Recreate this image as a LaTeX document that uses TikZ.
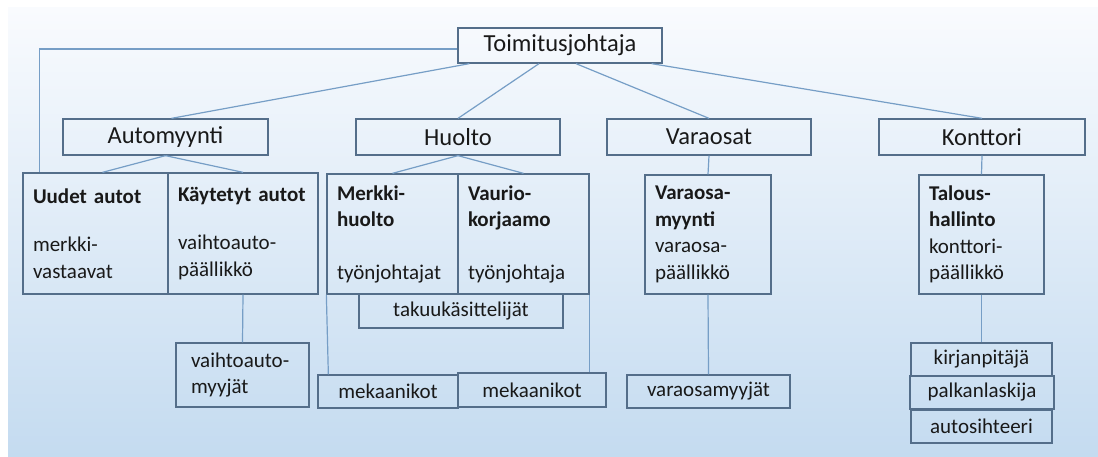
\documentclass[tikz,border=0pt]{standalone}
\usepackage{fontspec}
\setmainfont{Carlito}
\usepackage{tikz}
\usepackage{color}

\definecolor{boxline}{RGB}{84,110,138}
\definecolor{linkline}{RGB}{118,158,198}
\definecolor{paneltop}{RGB}{249,251,254}
\definecolor{panelbottom}{RGB}{196,219,240}
\definecolor{ink}{RGB}{25,25,25}

\tikzset{
  unit/.style={draw=boxline, line width=1.3pt, rectangle, text=ink, inner sep=0pt},
  bigunit/.style={unit, font=\fontsize{24.5}{29}\selectfont},
  smallunit/.style={unit, font=\fontsize{21}{26.5}\selectfont},
  textunit/.style={smallunit, align=left, inner xsep=10pt},
  link/.style={draw=linkline, line width=1.2pt}
}

\begin{document}
\begin{tikzpicture}[x=1pt,y=-1pt]
\useasboundingbox (0,0) rectangle (1098,457);
\shade[top color=paneltop, bottom color=panelbottom] (8,8) rectangle (1098,457);

\node[bigunit, minimum width=204pt, minimum height=35pt] (toim) at (560,45.5) {Toimitusjohtaja};

\node[bigunit, minimum width=205pt, minimum height=36pt] (auto) at (165.5,137) {Automyynti};
\node[bigunit, minimum width=204pt, minimum height=36pt] (huolto) at (458,137) {Huolto};
\node[bigunit, minimum width=204pt, minimum height=36pt] (varaosat) at (709,137) {Varaosat};
\node[bigunit, minimum width=206pt, minimum height=36pt] (konttori) at (982,137) {Konttori};

\node[textunit, text width=125pt, minimum height=121pt] (uudet) at (95.5,233.5) {\textbf{Uudet~autot}\\[22pt]merkki-\\vastaavat};
\node[textunit, text width=130pt, minimum height=121pt] (kaytetyt) at (243,233.5) {\textbf{Käytetyt~autot}\\[22pt]vaihtoauto-\\päällikkö};
\node[textunit, text width=111pt, minimum height=120pt] (merkki) at (392.5,234) {\textbf{Merkki-}\\\textbf{huolto}\\[26pt]työnjohtajat};
\node[textunit, text width=111pt, minimum height=120pt] (vaurio) at (523.5,234) {\textbf{Vaurio-}\\\textbf{korjaamo}\\[26pt]työnjohtaja};
\node[textunit, text width=106pt, minimum height=119pt] (varmyynti) at (708,234.5) {\textbf{Varaosa-}\\\textbf{myynti}\\varaosa-\\päällikkö};
\node[textunit, text width=105pt, minimum height=119pt] (talous) at (981.5,234.5) {\textbf{Talous-}\\\textbf{hallinto}\\konttori-\\päällikkö};

\node[smallunit, minimum width=204pt, minimum height=34pt] (takuu) at (461,311) {takuukäsittelijät};
\node[textunit, inner xsep=15pt, text width=103pt, minimum height=64pt] (vaihtomyyjat) at (242.5,375) {vaihtoauto-\\myyjät};
\node[smallunit, minimum width=140pt, minimum height=33pt] (mek1) at (388,391.5) {mekaanikot};
\node[smallunit, minimum width=148pt, minimum height=34pt] (mek2) at (532,390) {mekaanikot};
\node[smallunit, minimum width=163pt, minimum height=33pt] (varmyyjat) at (708.5,391.5) {varaosamyyjät};
\node[smallunit, minimum width=141pt, minimum height=33pt] (kirjan) at (981.5,359.5) {kirjanpitäjä};
\node[smallunit, minimum width=144pt, minimum height=33pt] (palkan) at (982,392.5) {palkanlaskija};
\node[smallunit, minimum width=141pt, minimum height=33pt] (autosiht) at (981.5,426.5) {autosihteeri};

\draw[link] ([yshift=-3.5pt]toim.west) -| ([xshift=17pt]uudet.north west);
\draw[link] ([xshift=12pt]toim.south west) -- ([xshift=6pt]auto.north);
\draw[link] ([xshift=-21pt]toim.south) -- (huolto.north);
\draw[link] ([xshift=16pt]toim.south) -- (varaosat.north);
\draw[link] ([xshift=-11pt]toim.south east) -- (konttori.north);

\draw[link] (auto.south) -- ([xshift=7pt]uudet.north);
\draw[link] (auto.south) -- (kaytetyt.north);
\draw[link] (huolto.south) -- (merkki.north);
\draw[link] (huolto.south) -- (vaurio.north);
\draw[link] (varaosat.south) -- (varmyynti.north);
\draw[link] (konttori.south) -- (talous.north);

\draw[link] (kaytetyt.south) -- (vaihtomyyjat.north);
\draw[link] (varmyynti.south) -- (varmyyjat.north);
\draw[link] (talous.south) -- (kirjan.north);
\draw[link] (merkki.south west) -- ([xshift=11pt]mek1.north west);
\draw[link] (vaurio.south east) -- (vaurio.south east |- mek2.north);
\end{tikzpicture}
\end{document}
